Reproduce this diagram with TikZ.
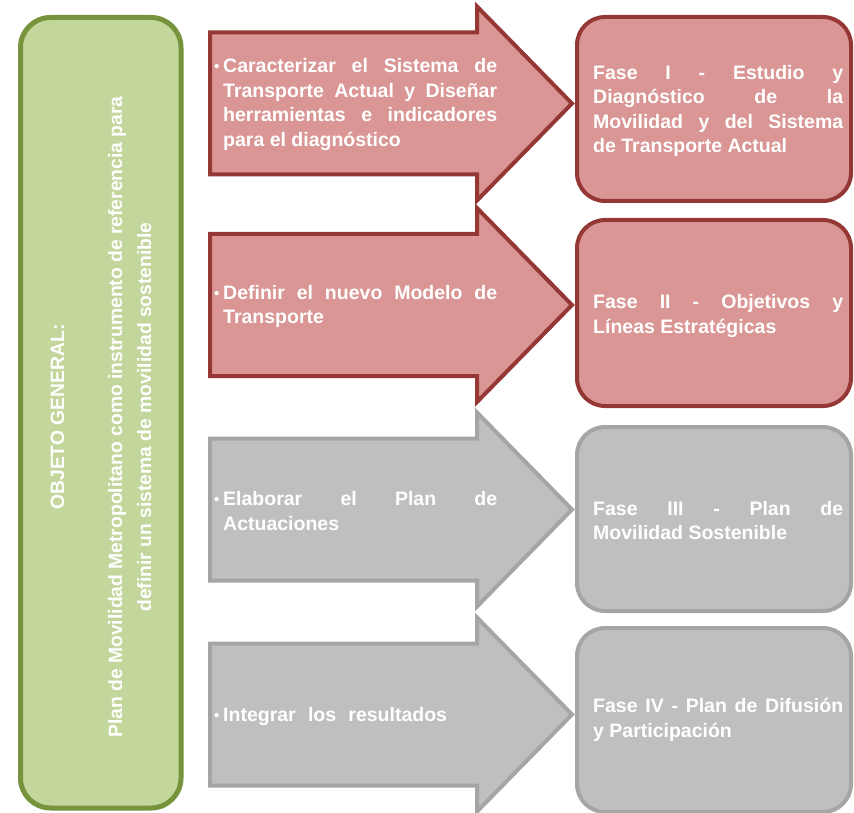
\documentclass[tikz,border=0pt]{standalone}
\usepackage{fontspec}
\setmainfont{Liberation Sans}
\definecolor{redfill}{HTML}{D99694}
\definecolor{redline}{HTML}{953735}
\definecolor{grayfill}{HTML}{BFBFBF}
\definecolor{grayline}{HTML}{A5A5A5}
\definecolor{greenfill}{HTML}{C3D69B}
\definecolor{greenline}{HTML}{77933C}
\tikzset{
  redshape/.style={fill=redfill,draw=redline,line width=4pt,line join=miter},
  grayshape/.style={fill=grayfill,draw=grayline,line width=4pt,line join=miter},
  phasebox/.style={rounded corners=28pt},
  txt/.style={inner sep=0pt,anchor=west,text=white,font=\fontsize{19.5}{24.5}\selectfont\bfseries},
  objtxt/.style={inner sep=0pt,text=white,align=center,rotate=90,font=\fontsize{19.3}{29}\selectfont\bfseries},
}
\newcommand\bigarrow[2]{%
  \draw[#1] (210,#2-71) -- (477,#2-71) -- (477,#2-97) -- (572,#2) -- (477,#2+97) -- (477,#2+71) -- (210,#2+71) -- cycle;}
\newcommand\bul{\makebox[9pt][l]{\raisebox{1pt}{\fontsize{15}{15}\selectfont •}}}
\newcommand\arrowtext[1]{\parbox{283pt}{\hangindent=9pt\hangafter=1 \bul #1}}
\newcommand\boxtext[1]{\parbox{250pt}{#1}}
\begin{document}
\begin{tikzpicture}[x=1pt,y=-1pt]
\useasboundingbox (0,0) rectangle (854,813);
% left objective box
\draw[fill=greenfill,draw=greenline,line width=5pt,rounded corners=30pt] (20.5,17.5) rectangle (181,808);
\node[objtxt] (obj) at (101,417) {OBJETO GENERAL:\\[29pt]Plan de Movilidad Metropolitano como instrumento de referencia para\\definir un sistema de movilidad sostenible};
% arrows
\bigarrow{redshape}{103.5}
\bigarrow{redshape}{305}
\bigarrow{grayshape}{509.5}
\bigarrow{grayshape}{714.5}
\node[txt] (a1) at (214,104.5) {\arrowtext{Caracterizar el Sistema de\linebreak Transporte Actual y Diseñar\linebreak herramientas e indicadores\linebreak para el diagnóstico}};
\node[txt] (a2) at (214,306.5) {\arrowtext{Definir el nuevo Modelo de\linebreak Transporte}};
\node[txt] (a3) at (214,511) {\arrowtext{Elaborar el Plan de\linebreak Actuaciones}};
\node[txt] (a4) at (214,716) {\arrowtext{Integrar\hspace{0.35em} los\hspace{0.35em} resultados}};
% phase boxes
\draw[redshape,phasebox] (577,17) rectangle (851,201);
\draw[redshape,phasebox] (577,220) rectangle (851,406);
\draw[grayshape,phasebox] (577,427) rectangle (851,611);
\draw[grayshape,phasebox] (577,628) rectangle (851,812);
\node[txt] (f1) at (593,111) {\boxtext{Fase I - Estudio y\linebreak Diagnóstico de la\linebreak Movilidad y del Sistema\linebreak de Transporte Actual}};
\node[txt] (f2) at (593,316) {\boxtext{Fase II - Objetivos y\linebreak Líneas Estratégicas}};
\node[txt] (f3) at (593,520.5) {\boxtext{Fase III - Plan de\linebreak Movilidad Sostenible}};
\node[txt] (f4) at (593,720) {\boxtext{Fase IV - Plan de Difusión\linebreak y Participación}};
\end{tikzpicture}
\end{document}
